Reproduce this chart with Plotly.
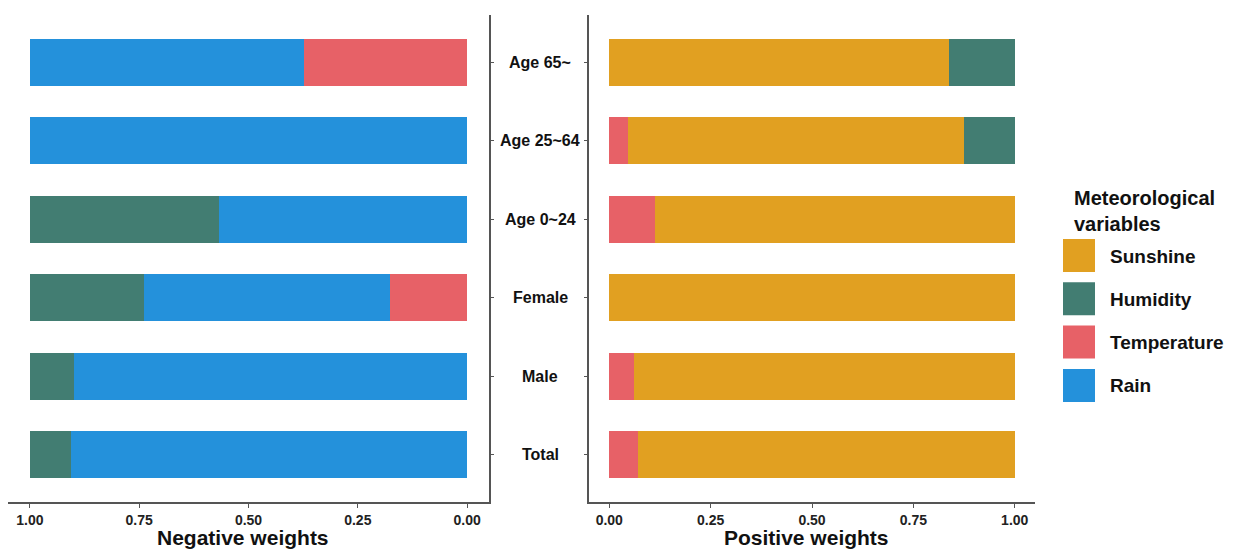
import plotly.graph_objects as go

# Population groups (bottom to top)
categories = ["Total", "Male", "Female", "Age 0~24", "Age 25~64", "Age 65~"]

# Negative weights, stacked from 0 outward
neg_temperature = [0.0, 0.0, 0.176, 0.0, 0.0, 0.372]
neg_rain = [0.905, 0.900, 0.564, 0.568, 1.0, 0.628]
neg_humidity = [0.095, 0.100, 0.260, 0.432, 0.0, 0.0]

# Positive weights, stacked from 0 outward
pos_temperature = [0.070, 0.060, 0.0, 0.112, 0.047, 0.0]
pos_sunshine = [0.930, 0.940, 1.0, 0.888, 0.828, 0.838]
pos_humidity = [0.0, 0.0, 0.0, 0.0, 0.125, 0.162]

x_ticks = [0.0, 0.25, 0.5, 0.75, 1.0]
x_ticktext = ["0.00", "0.25", "0.50", "0.75", "1.00"]

legend_names = ["Sunshine", "Humidity", "Temperature", "Rain"]
colors = {
    "Sunshine": "#E1A021",
    "Humidity": "#427D72",
    "Temperature": "#E76167",
    "Rain": "#2491DB",
}

W, H = 1237, 550
FONT = "Liberation Sans, Arial, sans-serif"

fig = go.Figure()

def add_bar(values, name, xaxis, yaxis):
    fig.add_trace(go.Bar(
        y=categories, x=values, orientation="h", name=name,
        marker=dict(color=colors[name], line=dict(width=0)),
        width=0.6, xaxis=xaxis, yaxis=yaxis, showlegend=False,
    ))

add_bar(neg_temperature, "Temperature", "x", "y")
add_bar(neg_rain, "Rain", "x", "y")
add_bar(neg_humidity, "Humidity", "x", "y")

add_bar(pos_temperature, "Temperature", "x2", "y2")
add_bar(pos_sunshine, "Sunshine", "x2", "y2")
add_bar(pos_humidity, "Humidity", "x2", "y2")

axis_line = dict(showline=True, linecolor="#555555", linewidth=1.5,
                 ticks="outside", tickcolor="#555555",
                 showgrid=False, zeroline=False)
tick_font = dict(family=FONT, size=14, color="#222222", weight="bold")

y_dom = [48 / H, 535 / H]

fig.update_layout(
    width=W, height=H,
    margin=dict(l=0, r=0, t=0, b=0),
    paper_bgcolor="white", plot_bgcolor="white",
    barmode="stack", bargap=0.4,
    xaxis=dict(domain=[8 / W, 489 / W], range=[1.05, -0.05],
               tickvals=x_ticks, ticktext=x_ticktext, tickfont=tick_font,
               anchor="y", ticklen=4, **axis_line),
    yaxis=dict(domain=y_dom, range=[-0.6, 5.6], side="right",
               showticklabels=False, anchor="x", ticklen=3, **axis_line),
    xaxis2=dict(domain=[589 / W, 1035 / W], range=[-0.05, 1.05],
                tickvals=x_ticks, ticktext=x_ticktext, tickfont=tick_font,
                anchor="y2", ticklen=4, **axis_line),
    yaxis2=dict(domain=y_dom, range=[-0.6, 5.6], side="left",
                showticklabels=False, anchor="x2", ticklen=3, **axis_line),
)

annotations = []
# Group labels centered between the two panels
for cat in categories:
    annotations.append(dict(
        x=540 / W, xref="paper", y=cat, yref="y", text=cat,
        showarrow=False, xanchor="center", yanchor="middle",
        font=dict(family=FONT, size=16, color="#111111", weight="bold"),
    ))

# Axis titles
title_font = dict(family=FONT, size=21, color="#111111", weight="bold")
annotations.append(dict(x=243 / W, y=1 - 537 / H, xref="paper", yref="paper",
                        text="Negative weights", showarrow=False,
                        xanchor="center", yanchor="middle", font=title_font))
annotations.append(dict(x=806 / W, y=1 - 537 / H, xref="paper", yref="paper",
                        text="Positive weights", showarrow=False,
                        xanchor="center", yanchor="middle", font=title_font))

# Legend
annotations.append(dict(x=1072 / W, y=1 - 185 / H, xref="paper", yref="paper",
                        text="Meteorological<br>variables", showarrow=False,
                        xanchor="left", yanchor="top", align="left",
                        font=dict(family=FONT, size=20, color="#111111",
                                  weight="bold")))
shapes = []
for i, name in enumerate(legend_names):
    top = 239 + i * 43.3
    shapes.append(dict(type="rect", xref="paper", yref="paper",
                       x0=1063 / W, x1=1095 / W,
                       y0=1 - (top + 33) / H, y1=1 - top / H,
                       fillcolor=colors[name], line=dict(width=0)))
    annotations.append(dict(x=1108 / W, y=1 - (top + 17) / H,
                            xref="paper", yref="paper", text=name,
                            showarrow=False, xanchor="left", yanchor="middle",
                            font=dict(family=FONT, size=19, color="#111111",
                                      weight="bold")))

fig.update_layout(annotations=annotations, shapes=shapes)

fig.write_html("out.html")
